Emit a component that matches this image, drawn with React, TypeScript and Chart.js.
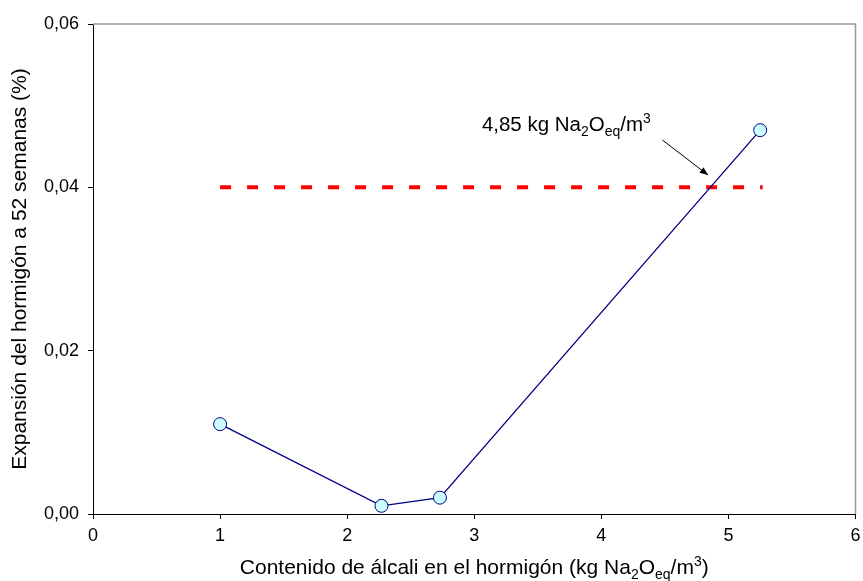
import React, { useEffect, useRef } from "react";
import { Chart, registerables } from "chart.js";

Chart.register(...registerables);

// ---- data ----
const alkaliContent = [1, 2.27, 2.73, 5.25];
const expansion52w = [0.011, 0.001, 0.002, 0.047];
const limitX = [1, 5.27];
const limitY = [0.04, 0.04];
const xTicks = [0, 1, 2, 3, 4, 5, 6];
const yTicks = [0, 0.02, 0.04, 0.06];
const annotationTextPos = [3.06, 0.0469]; // data coords of text start (left, baseline)
const arrowFrom = [4.48, 0.0458];
const arrowTo = [4.84, 0.0415];

const yTitle = "Expansión del hormigón a 52 semanas (%)";
type Seg = { t: string; m?: "sub" | "sup" };
const xTitleSegs: Seg[] = [
  { t: "Contenido de álcali en el hormigón (kg Na" },
  { t: "2", m: "sub" },
  { t: "O" },
  { t: "eq", m: "sub" },
  { t: "/m" },
  { t: "3", m: "sup" },
  { t: ")" },
];
const annotSegs: Seg[] = [
  { t: "4,85 kg Na" },
  { t: "2", m: "sub" },
  { t: "O" },
  { t: "eq", m: "sub" },
  { t: "/m" },
  { t: "3", m: "sup" },
];

const FONT = "'Liberation Sans', Arial, sans-serif";

function richWidth(ctx: CanvasRenderingContext2D, segs: Seg[], size: number) {
  let w = 0;
  for (const s of segs) {
    ctx.font = `${s.m ? Math.round(size * 0.68) : size}px ${FONT}`;
    w += ctx.measureText(s.t).width;
  }
  return w;
}
function drawRich(ctx: CanvasRenderingContext2D, segs: Seg[], x: number, y: number, size: number) {
  let cx = x;
  ctx.textBaseline = "alphabetic";
  ctx.textAlign = "left";
  for (const s of segs) {
    const fs = s.m ? Math.round(size * 0.68) : size;
    ctx.font = `${fs}px ${FONT}`;
    const dy = s.m === "sub" ? size * 0.25 : s.m === "sup" ? -size * 0.38 : 0;
    ctx.fillText(s.t, cx, y + dy);
    cx += ctx.measureText(s.t).width;
  }
}

const overlay = {
  id: "overlay",
  afterDraw(chart: any) {
    const { ctx, chartArea: a, scales } = chart;
    const xs = scales.x, ys = scales.y;
    ctx.save();
    // gray top and right frame
    ctx.strokeStyle = "#999999";
    ctx.lineWidth = 1.5;
    ctx.beginPath();
    ctx.moveTo(a.left, a.top);
    ctx.lineTo(a.right, a.top);
    ctx.lineTo(a.right, a.bottom);
    ctx.stroke();
    // x title
    ctx.fillStyle = "#000";
    const size = 21;
    const w = richWidth(ctx, xTitleSegs, size);
    drawRich(ctx, xTitleSegs, (a.left + a.right) / 2 - w / 2, 574, size);
    // annotation
    drawRich(ctx, annotSegs, xs.getPixelForValue(annotationTextPos[0]), ys.getPixelForValue(annotationTextPos[1]), 20.5);
    // arrow
    const x1 = xs.getPixelForValue(arrowFrom[0]), y1 = ys.getPixelForValue(arrowFrom[1]);
    const x2 = xs.getPixelForValue(arrowTo[0]), y2 = ys.getPixelForValue(arrowTo[1]);
    ctx.strokeStyle = "#000";
    ctx.lineWidth = 1;
    ctx.beginPath();
    ctx.moveTo(x1, y1);
    ctx.lineTo(x2, y2);
    ctx.stroke();
    const ang = Math.atan2(y2 - y1, x2 - x1);
    const L = 9, W = 0.38;
    ctx.beginPath();
    ctx.moveTo(x2, y2);
    ctx.lineTo(x2 - L * Math.cos(ang - W), y2 - L * Math.sin(ang - W));
    ctx.lineTo(x2 - L * Math.cos(ang + W), y2 - L * Math.sin(ang + W));
    ctx.closePath();
    ctx.fill();
    ctx.restore();
  },
};

export default function App() {
  const ref = useRef<HTMLCanvasElement | null>(null);
  useEffect(() => {
    if (!ref.current) return;
    const chart = new Chart(ref.current, {
      type: "scatter",
      data: {
        datasets: [
          {
            label: "limit",
            data: limitX.map((x, i) => ({ x, y: limitY[i] })),
            showLine: true,
            borderColor: "#ff0000",
            borderWidth: 4,
            borderDash: [11, 16],
            pointRadius: 0,
            order: 2,
          },
          {
            label: "expansion",
            data: alkaliContent.map((x, i) => ({ x, y: expansion52w[i] })),
            showLine: true,
            borderColor: "#000080",
            borderWidth: 1.3,
            pointRadius: 6.5,
            pointBackgroundColor: "#ccffff",
            pointBorderColor: "#000080",
            pointBorderWidth: 1,
            order: 1,
          },
        ],
      },
      options: {
        animation: false,
        responsive: false,
        maintainAspectRatio: false,
        layout: { padding: { left: 8, top: 24, right: 7, bottom: 0 } },
        plugins: { legend: { display: false }, tooltip: { enabled: false } },
        scales: {
          x: {
            type: "linear",
            min: 0,
            max: 6,
            afterBuildTicks: (s: any) => {
              s.ticks = xTicks.map((v) => ({ value: v }));
            },
            afterFit: (s: any) => {
              s.height = 67;
              s.paddingRight = 0;
              s.paddingLeft = 0;
            },
            ticks: { color: "#000", font: { family: FONT, size: 18 }, padding: 6 },
            grid: { drawOnChartArea: false, drawTicks: true, tickLength: 5, color: "#000" },
            border: { display: true, color: "#000", width: 1 },
          },
          y: {
            min: 0,
            max: 0.06,
            afterBuildTicks: (s: any) => {
              s.ticks = yTicks.map((v) => ({ value: v }));
            },
            afterFit: (s: any) => {
              s.width = 85;
            },
            ticks: {
              color: "#000",
              font: { family: FONT, size: 18 },
              padding: 9,
              callback: (v: any) => Number(v).toFixed(2).replace(".", ","),
            },
            grid: { drawOnChartArea: false, drawTicks: true, tickLength: 5, color: "#000" },
            border: { display: true, color: "#000", width: 1 },
            title: {
              display: true,
              text: yTitle,
              color: "#000",
              font: { family: FONT, size: 21 },
              padding: { top: 0, bottom: 2 },
            },
          },
        },
      },
      plugins: [overlay],
    });
    return () => chart.destroy();
  }, []);
  return (
    <div style={{ position: "absolute", left: 0, top: 0, width: 863, height: 581, background: "#fff" }}>
      <canvas ref={ref} width={863} height={581} />
    </div>
  );
}
